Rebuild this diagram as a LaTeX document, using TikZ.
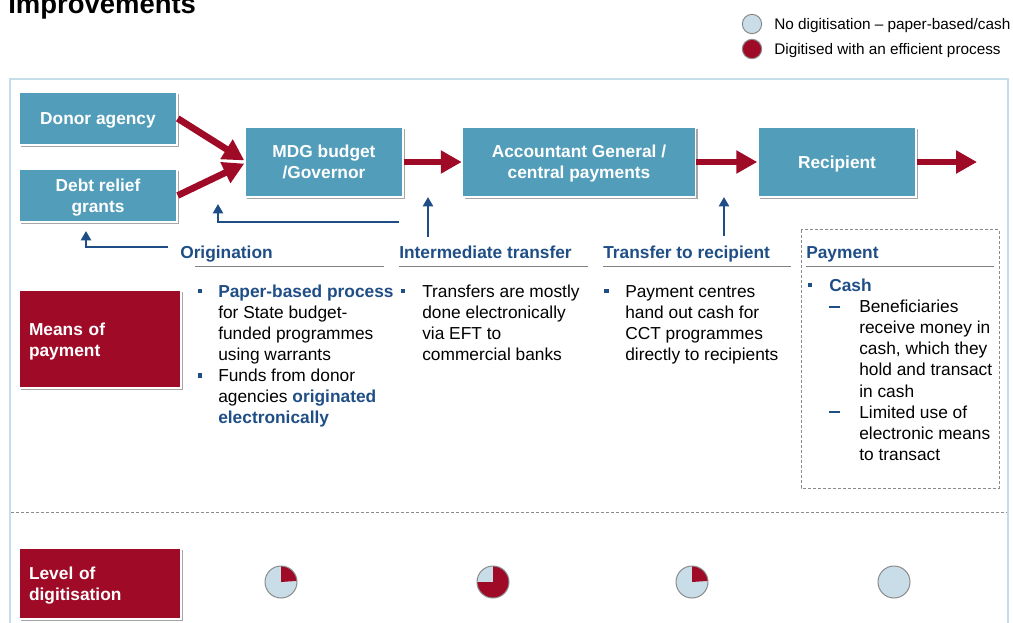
\documentclass[tikz,border=0pt]{standalone}
\usepackage{fontspec}
\setmainfont{Liberation Sans}
\usetikzlibrary{arrows.meta,shadows}

\definecolor{boxteal}{HTML}{529DBA}
\definecolor{dred}{HTML}{9F0A27}
\definecolor{dblue}{HTML}{1F4E86}
\definecolor{pieblue}{HTML}{C8DDE8}
\definecolor{framecol}{HTML}{C6DDEA}
\definecolor{linegrey}{HTML}{808080}
\definecolor{piegrey}{HTML}{8A8A8A}

\newcommand\bodyfont{\fontsize{13}{15.75}\selectfont}
\newcommand\colpar[2]{\parbox[t]{#1}{\raggedright\bodyfont #2}}
\newcommand\hl[1]{\textcolor{dblue}{\bfseries #1}}
% raises the first line of a label so the two-line block sits on its caps
\newcommand\capstrut{\rule{0pt}{12.5pt}}

\tikzset{
  boxshadow/.style={drop shadow={shadow xshift=1.8pt,shadow yshift=-1.8pt,fill=black,opacity=0.35}},
  flowbox/.style={rectangle, fill=boxteal, draw=white, line width=1.1pt, boxshadow,
    text=white, font=\bodyfont\bfseries, align=center, inner sep=0pt, text depth=0pt},
  rowlabel/.style={rectangle, fill=dred, draw=white, line width=1.1pt, boxshadow,
    text=white, font=\bodyfont\bfseries, align=left, inner xsep=7.5pt, inner ysep=0pt,
    text width=106.5pt, minimum width=121.5pt},
  redarrow/.style={draw=dred, line width=5pt, -{Triangle[length=15.75pt,width=16.5pt]}},
  bluearrow/.style={draw=dblue, line width=2pt, -{Triangle[length=7pt,width=7.5pt]}},
  colhead/.style={anchor=base west, inner sep=0pt, text=dblue, font=\bodyfont\bfseries},
  headrule/.style={draw=linegrey, line width=0.75pt},
  bodytext/.style={anchor=base west, inner sep=0pt},
  bulletsq/.style={fill=dblue},
  subdash/.style={draw=dblue, line width=1.1pt},
  pieedge/.style={draw=piegrey, line width=0.75pt},
}

\begin{document}
\begin{tikzpicture}[x=0.75pt,y=-0.75pt]
\useasboundingbox (0,0) rectangle (1013,623);
\clip (0,0) rectangle (1013,623);

% heading
\node[anchor=base west, inner sep=0pt, font=\fontsize{20.6}{24}\selectfont\bfseries] (title) at (8,14) {Improvements};

% legend
\node[circle, fill=pieblue, draw=piegrey, line width=0.75pt, minimum size=14.5pt, inner sep=0pt] (legA) at (752,24) {};
\node[circle, fill=dred, draw=piegrey, line width=0.75pt, minimum size=14.5pt, inner sep=0pt] (legB) at (752,49) {};
\node[anchor=base west, inner sep=0pt, font=\fontsize{11.5}{14}\selectfont] (legAt) at (774,29.5) {No digitisation -- paper-based/cash};
\node[anchor=base west, inner sep=0pt, font=\fontsize{11.5}{14}\selectfont] (legBt) at (774,54.5) {Digitised with an efficient process};

% outer frame
\draw[framecol, line width=1.5pt] (10,79) rectangle (1008,660);

% flow boxes
\node[flowbox, minimum width=118.5pt, minimum height=39.75pt] (donor) at (98,118.5) {Donor agency};
\node[flowbox, minimum width=118.5pt, minimum height=39.75pt] (debt) at (98,195.5) {Debt relief\\grants};
\node[flowbox, minimum width=118.5pt, minimum height=52.5pt] (mdg) at (324,162) {MDG budget\\/Governor};
\node[flowbox, minimum width=174.75pt, minimum height=52.5pt] (acc) at (579,162) {Accountant General /\\central payments};
\node[flowbox, minimum width=118.5pt, minimum height=52.5pt] (rec) at (837,162) {Recipient};
\coordinate (recout) at (977,162);

% money flow
\draw[redarrow] (donor.east) -- ([yshift=1.2pt]mdg.west);
\draw[redarrow] (debt.east) -- ([yshift=-1.2pt]mdg.west);
\draw[redarrow] (mdg.east) -- (acc.west);
\draw[redarrow] (acc.east) -- (rec.west);
\draw[redarrow] (rec.east) -- (recout);

% stage pointers
\coordinate (p1s) at (399,222); \coordinate (p1e) at (218,204);
\coordinate (p2s) at (428,237); \coordinate (p2e) at (428,197);
\coordinate (p3s) at (724,236); \coordinate (p3e) at (724,197);
\coordinate (p4s) at (168,247); \coordinate (p4e) at (86,231);
\draw[bluearrow] (p1s) -| (p1e);
\draw[bluearrow] (p2s) -- (p2e);
\draw[bluearrow] (p3s) -- (p3e);
\draw[bluearrow] (p4s) -| (p4e);

% payment stage frame
\draw[draw=piegrey, line width=0.75pt, dash pattern=on 2.25pt off 1.5pt] (801,230) rectangle (999,488);

% column headings
\node[colhead] (h1) at (180,259) {Origination};
\node[colhead] (h2) at (399,259) {Intermediate transfer};
\node[colhead] (h3) at (603,259) {Transfer to recipient};
\node[colhead] (h4) at (806,259) {Payment};
\draw[headrule] (195,267) -- (384,267);
\draw[headrule] (399,267) -- (588,267);
\draw[headrule] (603,267) -- (791,267);
\draw[headrule] (806,267) -- (994,267);

% means of payment
\node[rowlabel, minimum height=73.5pt] (means) at (100,339) {\capstrut Means of\\payment};

\fill[bulletsq] (197.5,289) rectangle (202,293.5);
\node[bodytext] (o1) at (218,298) {\colpar{6cm}{\hl{Paper-based process}\\for State budget-\\funded programmes\\using warrants}};
\fill[bulletsq] (197.5,373) rectangle (202,377.5);
\node[bodytext] (o2) at (218,382) {\colpar{6cm}{Funds from donor\\agencies \hl{originated}\\\hl{electronically}}};

\fill[bulletsq] (400.5,289) rectangle (405,293.5);
\node[bodytext] (i1) at (422,298) {\colpar{6cm}{Transfers are mostly\\done electronically\\via EFT to\\commercial banks}};

\fill[bulletsq] (604,289) rectangle (608.5,293.5);
\node[bodytext] (t1) at (625,298) {\colpar{6cm}{Payment centres\\hand out cash for\\CCT programmes\\directly to recipients}};

\fill[bulletsq] (807.5,283) rectangle (812,287.5);
\node[bodytext] (c1) at (829,292) {\colpar{3cm}{\hl{Cash}}};
\draw[subdash] (829,307) -- (840,307);
\node[bodytext] (c2) at (859,313) {\colpar{4cm}{Beneficiaries\\receive money in\\cash, which they\\hold and transact\\in cash}};
\draw[subdash] (829,412) -- (840,412);
\node[bodytext] (c3) at (859,418) {\colpar{4cm}{Limited use of\\electronic means\\to transact}};

% row divider
\draw[draw=piegrey, line width=0.75pt, dash pattern=on 2.25pt off 1.5pt] (11,512) -- (1007,512);

% level of digitisation
\node[rowlabel, minimum height=53.25pt] (level) at (100,583.5) {\capstrut Level of\\digitisation};

\coordinate (pie1) at (281,582);
\coordinate (pie2) at (493,582);
\coordinate (pie3) at (692,582);
\coordinate (pie4) at (894,582);
\fill[pieblue] (pie1) circle (16);
\fill[dred] (pie1) -- ++(-90:16) arc[start angle=-90, end angle=-4, radius=16] -- cycle;
\draw[pieedge] (pie1) circle (16);
\fill[pieblue] (pie2) circle (16);
\fill[dred] (pie2) -- ++(-90:16) arc[start angle=-90, end angle=180, radius=16] -- cycle;
\draw[pieedge] (pie2) circle (16);
\fill[pieblue] (pie3) circle (16);
\fill[dred] (pie3) -- ++(-90:16) arc[start angle=-90, end angle=-4, radius=16] -- cycle;
\draw[pieedge] (pie3) circle (16);
\fill[pieblue] (pie4) circle (16);
\draw[pieedge] (pie4) circle (16);
\end{tikzpicture}
\end{document}
